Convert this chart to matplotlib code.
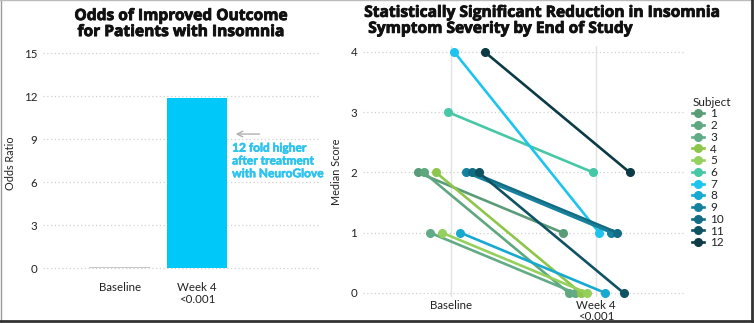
import matplotlib
matplotlib.use("Agg")
import matplotlib.pyplot as plt
import matplotlib.patheffects as pe
import numpy as np
from matplotlib.lines import Line2D

# ---- data ----
bar_categories = ["Baseline", "Week 4\n<0.001"]
odds_ratio = [0.08, 11.9]

time_labels = ["Baseline", "Week 4\n<0.001"]
subjects = [str(i) for i in range(1, 13)]
baseline_scores = [2, 2, 1, 2, 1, 3, 4, 1, 2, 2, 2, 4]
week4_scores = [1, 0, 0, 0, 0, 2, 1, 0, 1, 1, 0, 2]
subject_colors = ["#5b9c78", "#5fa77f", "#62ab87", "#8dc64b", "#95d05d", "#46c8a6",
                  "#1ec4f0", "#18a9d1", "#14829f", "#126c84", "#0f5262", "#0c3b45"]

FONT = ["Lato", "DejaVu Sans"]
TFONT = ["Open Sans", "DejaVu Sans"]
plt.rcParams["font.family"] = FONT
TXT = "#222222"
heavy = [pe.withStroke(linewidth=0.6, foreground="#111111")]

fig = plt.figure(figsize=(7.54, 3.23), dpi=100)

# ---- left panel ----
ax1 = fig.add_axes([0.057, 0.139, 0.367, 0.710])
xs = np.arange(len(bar_categories))
ax1.bar(xs, odds_ratio, width=0.78, color=["#c8c8c8", "#00c9f9"], zorder=2)
ax1.set_xlim(-0.99, 2.58)
ax1.set_ylim(-0.7, 15.3)
ax1.set_yticks([0, 3, 6, 9, 12, 15])
ax1.set_xticks(xs)
ax1.set_xticklabels(bar_categories, fontsize=8.3, color=TXT, linespacing=1.05)
ax1.tick_params(length=0, labelsize=8.3, colors=TXT)
ax1.tick_params(axis="y", pad=4)
ax1.tick_params(axis="x", pad=3)
ax1.grid(axis="y", linestyle=(0, (1, 2)), color="#d0d0d0", linewidth=0.9, zorder=0)
for s in ax1.spines.values():
    s.set_visible(False)
ax1.set_ylabel("Odds Ratio", fontsize=7.8, color=TXT, labelpad=6)
ax1.annotate("", xy=(1.46, 9.35), xytext=(1.84, 9.35),
             arrowprops=dict(arrowstyle="->", color="#b0b0b0", lw=1.0))
ax1.text(1.45, 8.75, "12 fold higher\nafter treatment\nwith NeuroGlove", fontsize=8.6,
         fontweight="bold", color="#2cc3ef", va="top", ha="left", linespacing=1.2,
         path_effects=[pe.withStroke(linewidth=0.4, foreground="#2cc3ef")])
fig.text(0.24, 0.975, "Odds of Improved Outcome\nfor Patients with Insomnia",
         ha="center", va="top", fontsize=11.2, fontweight="bold", color="#111111",
         family=TFONT, linespacing=1.0, path_effects=heavy)

# ---- right panel ----
ax2 = fig.add_axes([0.481, 0.080, 0.427, 0.778])
n = len(subjects)
step = 0.042
for k in range(n):
    off = (k - (n - 1) / 2) * step
    ax2.plot([0 + off, 1 + off], [baseline_scores[k], week4_scores[k]],
             color=subject_colors[k], lw=1.9, marker="o", markersize=5.5,
             solid_capstyle="round", zorder=3, label=subjects[k])
ax2.set_xlim(-0.61, 1.61)
ax2.set_ylim(-0.07, 4.1)
ax2.set_yticks([0, 1, 2, 3, 4])
ax2.set_xticks([0, 1])
ax2.set_xticklabels(time_labels, fontsize=8.3, color=TXT, linespacing=1.05)
ax2.tick_params(length=0, labelsize=8.3, colors=TXT)
ax2.tick_params(axis="y", pad=4)
ax2.tick_params(axis="x", pad=2)
ax2.grid(axis="y", linestyle=(0, (1, 2)), color="#d0d0d0", linewidth=0.9, zorder=0)
ax2.grid(axis="x", linestyle="-", color="#e2e2e2", linewidth=1.0, zorder=0)
for s in ax2.spines.values():
    s.set_visible(False)
ax2.set_ylabel("Median Score", fontsize=7.8, color=TXT, labelpad=6)
fig.text(0.483, 0.985, "Statistically Significant Reduction in Insomnia\n Symptom Severity by End of Study",
         ha="left", va="top", fontsize=11.2, fontweight="bold", color="#111111",
         family=TFONT, linespacing=1.0, path_effects=heavy)

handles = [Line2D([0], [0], color=subject_colors[k], lw=1.9, marker="o", markersize=5.5)
           for k in range(n)]
leg = fig.legend(handles, subjects, title="Subject", loc="upper left",
                 bbox_to_anchor=(0.912, 0.715), frameon=False, fontsize=8.5,
                 title_fontsize=8.5, handlelength=1.0, handletextpad=0.5,
                 labelspacing=0.06, borderaxespad=0)
leg._legend_box.align = "left"
for t in leg.get_texts():
    t.set_color(TXT)
leg.get_title().set_color(TXT)

# frame
fig.add_artist(Line2D([0.001, 0.001], [0, 1], transform=fig.transFigure, color="#9a9a9a", lw=1))
fig.add_artist(Line2D([0, 1], [0.999, 0.999], transform=fig.transFigure, color="#bcbcbc", lw=1))
fig.add_artist(Line2D([0.997, 0.997], [0, 1], transform=fig.transFigure, color="#333333", lw=2))
fig.add_artist(Line2D([0, 1], [0.005, 0.005], transform=fig.transFigure, color="#333333", lw=2))

fig.savefig("out.png", dpi=100)
